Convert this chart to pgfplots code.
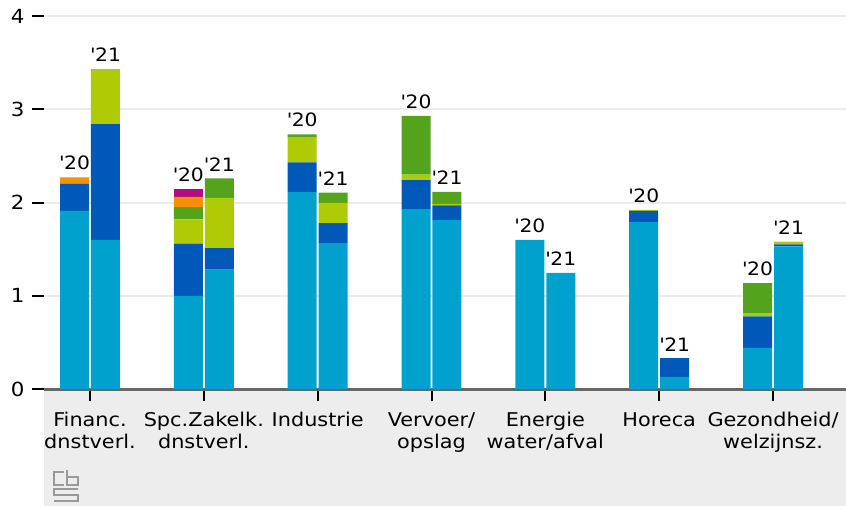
\documentclass[border=0pt]{standalone}
\usepackage{fontspec}
\setmainfont{DejaVu Sans}[FakeStretch=1.1]
\usepackage{pgfplots}
\usepackage{pgfplotstable}
\pgfplotsset{compat=1.18}
\definecolor{cA}{HTML}{00A1CD}
\definecolor{cB}{HTML}{0058B8}
\definecolor{cC}{HTML}{AFCB05}
\definecolor{cD}{HTML}{53A31D}
\definecolor{cE}{HTML}{F39200}
\definecolor{cF}{HTML}{AF0E80}
\pgfplotstableread{
x cA cB cC cD cE cF tot lab
-0.136 1.91 0.29 0 0 0.07 0 2.27 20
0.136 1.60 1.24 0.59 0 0 0 3.43 21
0.864 1.00 0.56 0.26 0.13 0.11 0.08 2.14 20
1.136 1.28 0.23 0.54 0.21 0 0 2.26 21
1.864 2.11 0.32 0.27 0.03 0 0 2.73 20
2.136 1.565 0.215 0.215 0.11 0 0 2.105 21
2.864 1.93 0.31 0.06 0.63 0 0 2.93 20
3.136 1.81 0.16 0.015 0.13 0 0 2.115 21
3.864 1.60 0 0 0 0 0 1.60 20
4.136 1.245 0 0 0 0 0 1.245 21
4.864 1.79 0.12 0.01 0 0 0 1.92 20
5.136 0.13 0.20 0 0 0 0 0.33 21
5.864 0.44 0.34 0.035 0.32 0 0 1.135 20
6.136 1.53 0.02 0.03 0 0 0 1.58 21
}\datatable
\pgfplotsset{common/.style={at={(0,0)}, anchor=south west, scale only axis,
  width=802bp, height=389bp,
  xmin=-0.404, xmax=6.641, ymin=0, ymax=4.1716}}
\begin{document}
\begin{tikzpicture}
\fill[black!7] (0,-117bp) rectangle (802bp,0);
\begin{axis}[
  common,
  ybar stacked, bar width=29bp,
  axis lines*=left,
  x axis line style={draw=black!60, line width=3bp},
  y axis line style={draw=none},
  xtick={0,...,6},
  xticklabels={{Financ.\\dnstverl.},{Spc.Zakelk.\\dnstverl.},{Industrie},{Vervoer/\\opslag},{Energie\\water/afval},{Horeca},{Gezondheid/\\welzijnsz.}},
  ytick={0,1,2,3,4},
  tick align=outside, major tick length=12bp,
  tick style={black, line width=2bp},
  xticklabel style={align=center, font=\fontsize{19}{22}\selectfont, yshift=-8bp},
  yticklabel style={font=\fontsize{19.5}{21}\selectfont, xshift=-4bp},
  /pgf/number format/assume math mode=true,
  ymajorgrids, grid style={draw=black!8, line width=2bp},
]
\addplot[fill=cA, draw=none] table[x=x,y=cA] {\datatable};
\addplot[fill=cB, draw=none] table[x=x,y=cB] {\datatable};
\addplot[fill=cC, draw=none] table[x=x,y=cC] {\datatable};
\addplot[fill=cD, draw=none] table[x=x,y=cD] {\datatable};
\addplot[fill=cE, draw=none] table[x=x,y=cE] {\datatable};
\addplot[fill=cF, draw=none] table[x=x,y=cF] {\datatable};
\end{axis}
\begin{axis}[common, hide axis,
  every node near coord/.append style={font=\fontsize{18.5}{20}\selectfont, anchor=south, inner sep=0pt, yshift=7bp}]
\addplot[only marks, mark=none, nodes near coords={\textquotesingle\pgfplotspointmeta}, point meta=explicit symbolic] table[x=x,y=tot,meta=lab] {\datatable};
\end{axis}
\begin{scope}[x=1bp,y=1bp,draw=black!40, line width=1.2bp, double=black!7, double distance=1.5bp]
\draw (20,-83) -- (10,-83) -- (10,-96) -- (20,-96);
\draw (23,-81) -- (23,-96) -- (34,-96) -- (34,-88) -- (23,-88);
\draw (34,-100) -- (10,-100) -- (10,-106) -- (34,-106) -- (34,-112) -- (10,-112);
\end{scope}
\pgfresetboundingbox
\path (-44bp,-117bp) rectangle (802bp,389bp);
\end{tikzpicture}
\end{document}
